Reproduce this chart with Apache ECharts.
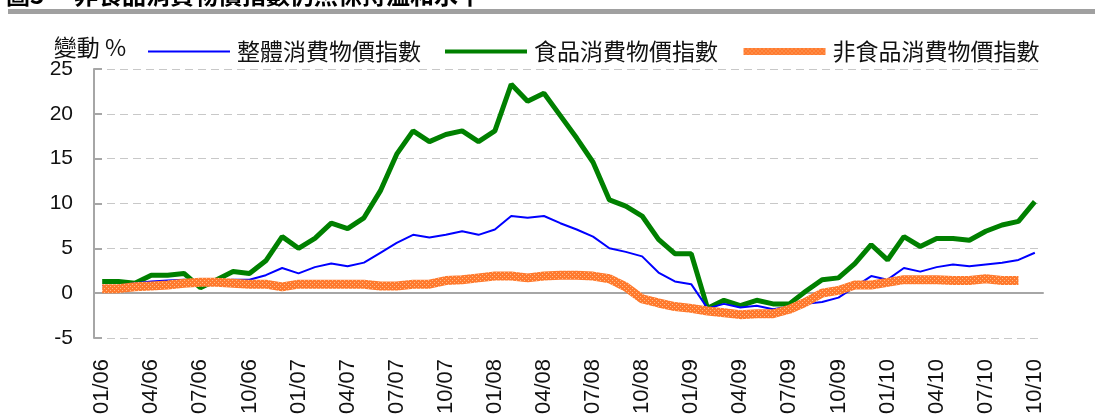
<!DOCTYPE html>
<html lang="zh-Hant">
<head>
  <meta charset="UTF-8">
  <title>消費物價指數</title>
  <script src="https://cdn.jsdelivr.net/npm/echarts@6/dist/echarts.min.js"></script>
  <style>
    html, body { margin: 0; padding: 0; background: #fff; }
    #chart { width: 1095px; height: 417px; }
  </style>
</head>
<body>
  <div id="chart"></div>
<script>
// 月份 01/06 - 10/10
const months = [];
for (let y = 6; y <= 10; y++) {
  for (let m = 1; m <= 12; m++) {
    if (y === 10 && m > 10) break;
    months.push(String(m).padStart(2, '0') + '/' + String(y).padStart(2, '0'));
  }
}

const seriesNames = ['整體消費物價指數', '食品消費物價指數', '非食品消費物價指數'];

// 整體
const overall = [
  0.8, 0.8, 1.1, 1.3, 1.4, 1.5, 1.3, 1.4, 1.5, 1.5, 2.0, 2.8,
  2.2, 2.9, 3.3, 3.0, 3.4, 4.5, 5.6, 6.5, 6.2, 6.5, 6.9, 6.5,
  7.1, 8.6, 8.4, 8.6, 7.8, 7.1, 6.3, 5.0, 4.6, 4.1, 2.3, 1.3,
  1.0, -1.7, -1.2, -1.6, -1.4, -1.8, -1.5, -1.2, -1.0, -0.5, 0.7, 1.9,
  1.5, 2.8, 2.4, 2.9, 3.2, 3.0, 3.2, 3.4, 3.7, 4.5
];
// 食品
const food = [
  1.3, 1.3, 1.1, 2.0, 2.0, 2.2, 0.6, 1.5, 2.4, 2.2, 3.6, 6.3,
  5.0, 6.1, 7.8, 7.2, 8.4, 11.4, 15.5, 18.1, 16.9, 17.7, 18.1, 16.9,
  18.1, 23.3, 21.4, 22.3, 19.8, 17.3, 14.6, 10.4, 9.7, 8.6, 6.0, 4.4,
  4.4, -1.7, -0.8, -1.4, -0.8, -1.2, -1.2, 0.2, 1.5, 1.7, 3.3, 5.4,
  3.7, 6.3, 5.2, 6.1, 6.1, 5.9, 6.9, 7.6, 8.0, 10.2
];
// 非食品
const nonFood = [
  0.5, 0.5, 0.7, 0.8, 0.9, 1.1, 1.2, 1.2, 1.1, 1.0, 1.0, 0.7,
  1.0, 1.0, 1.0, 1.0, 1.0, 0.8, 0.8, 1.0, 1.0, 1.4, 1.5, 1.7,
  1.9, 1.9, 1.7, 1.9, 2.0, 2.0, 1.9, 1.6, 0.7, -0.65, -1.1, -1.5,
  -1.7, -2.0, -2.2, -2.4, -2.3, -2.3, -1.8, -1.0, 0.0, 0.3, 0.9, 0.9,
  1.2, 1.5, 1.5, 1.5, 1.4, 1.4, 1.6, 1.4, 1.4, null
];

const yTicks = { min: -5, max: 25, step: 5 };

// 橙色網點線條
const pc = document.createElement('canvas');
pc.width = 4; pc.height = 4;
const pctx = pc.getContext('2d');
pctx.fillStyle = '#FF7A2E';
pctx.fillRect(0, 0, 4, 4);
pctx.fillStyle = '#FFBE8C';
pctx.fillRect(0, 0, 1, 1);
pctx.fillRect(2, 2, 1, 1);

const numFont = '"Liberation Sans Narrow", "Liberation Sans", Arial, sans-serif';
const cjkFont = '"Noto Sans CJK TC", "Noto Sans CJK SC", sans-serif';
const axisGray = '#A6A6A6';
const lineWidths = [2, 5, 9];

let myChart = echarts.init(document.getElementById('chart'));
let option = {
  animation: false,
  grid: { left: 94, right: 52, top: 69, bottom: 71 },
  graphic: [
    { type: 'rect', left: 8, top: 9, shape: { width: 1087, height: 5 }, style: { fill: '#A0A0A0' } },
    { type: 'text', left: 6, top: -17, style: { text: '圖3', font: 'bold 24px ' + cjkFont, fill: '#000' } },
    { type: 'text', left: 74, top: -17, style: { text: '非食品消費物價指數仍然保持溫和水平', font: 'bold 24px ' + cjkFont, fill: '#000' } }
  ],
  legend: {
    left: 142,
    top: 35,
    itemWidth: 82,
    itemHeight: 14,
    itemGap: 22,
    itemStyle: { opacity: 0 },
    textStyle: { fontFamily: cjkFont, fontSize: 23, color: '#111', padding: [0, 0, 0, 2] },
    data: [
      { name: seriesNames[0], lineStyle: { width: 2 } },
      { name: seriesNames[1], lineStyle: { width: 4 } },
      { name: seriesNames[2], lineStyle: { width: 7 } }
    ]
  },
  xAxis: [
    {
      type: 'category',
      data: months,
      boundaryGap: true,
      position: 'bottom',
      axisLine: { onZero: true, lineStyle: { color: axisGray, width: 2 } },
      axisTick: { inside: true, length: 8, interval: 2, lineStyle: { color: axisGray, width: 2 } },
      axisLabel: { show: false },
      splitLine: { show: false }
    },
    {
      type: 'category',
      data: months,
      boundaryGap: true,
      position: 'bottom',
      axisLine: { show: false, onZero: false },
      axisTick: { show: false },
      axisLabel: {
        interval: 2,
        rotate: 90,
        margin: 21,
        fontFamily: numFont,
        fontSize: 22,
        color: '#111'
      },
      splitLine: { show: false }
    }
  ],
  yAxis: {
    type: 'value',
    min: yTicks.min,
    max: yTicks.max,
    interval: yTicks.step,
    name: '變動 %',
    nameLocation: 'end',
    nameGap: 10,
    nameTextStyle: { fontFamily: cjkFont, fontSize: 23, color: '#111', align: 'center', padding: [0, 8, 0, 0] },
    axisLine: { show: true, lineStyle: { color: axisGray, width: 2 } },
    axisTick: { show: true, inside: true, length: 8, lineStyle: { color: axisGray, width: 2 } },
    axisLabel: { margin: 21, fontFamily: numFont, fontSize: 21, color: '#111' },
    splitLine: { show: true, lineStyle: { color: '#C8C8C8', width: 1, type: [8, 5] } }
  },
  series: [
    {
      name: seriesNames[0], type: 'line', data: overall, symbol: 'none', z: 4,
      lineStyle: { color: '#0000FF', width: lineWidths[0] }, itemStyle: { color: '#0000FF' }
    },
    {
      name: seriesNames[1], type: 'line', data: food, symbol: 'none', z: 3,
      lineStyle: { color: '#008000', width: lineWidths[1] }, itemStyle: { color: '#008000' }
    },
    {
      name: seriesNames[2], type: 'line', data: nonFood, symbol: 'none', z: 5,
      lineStyle: { color: { image: pc, repeat: 'repeat' }, width: lineWidths[2] },
      itemStyle: { color: '#FF7A2E' }
    }
  ]
};
myChart.setOption(option);
</script>
</body>
</html>
